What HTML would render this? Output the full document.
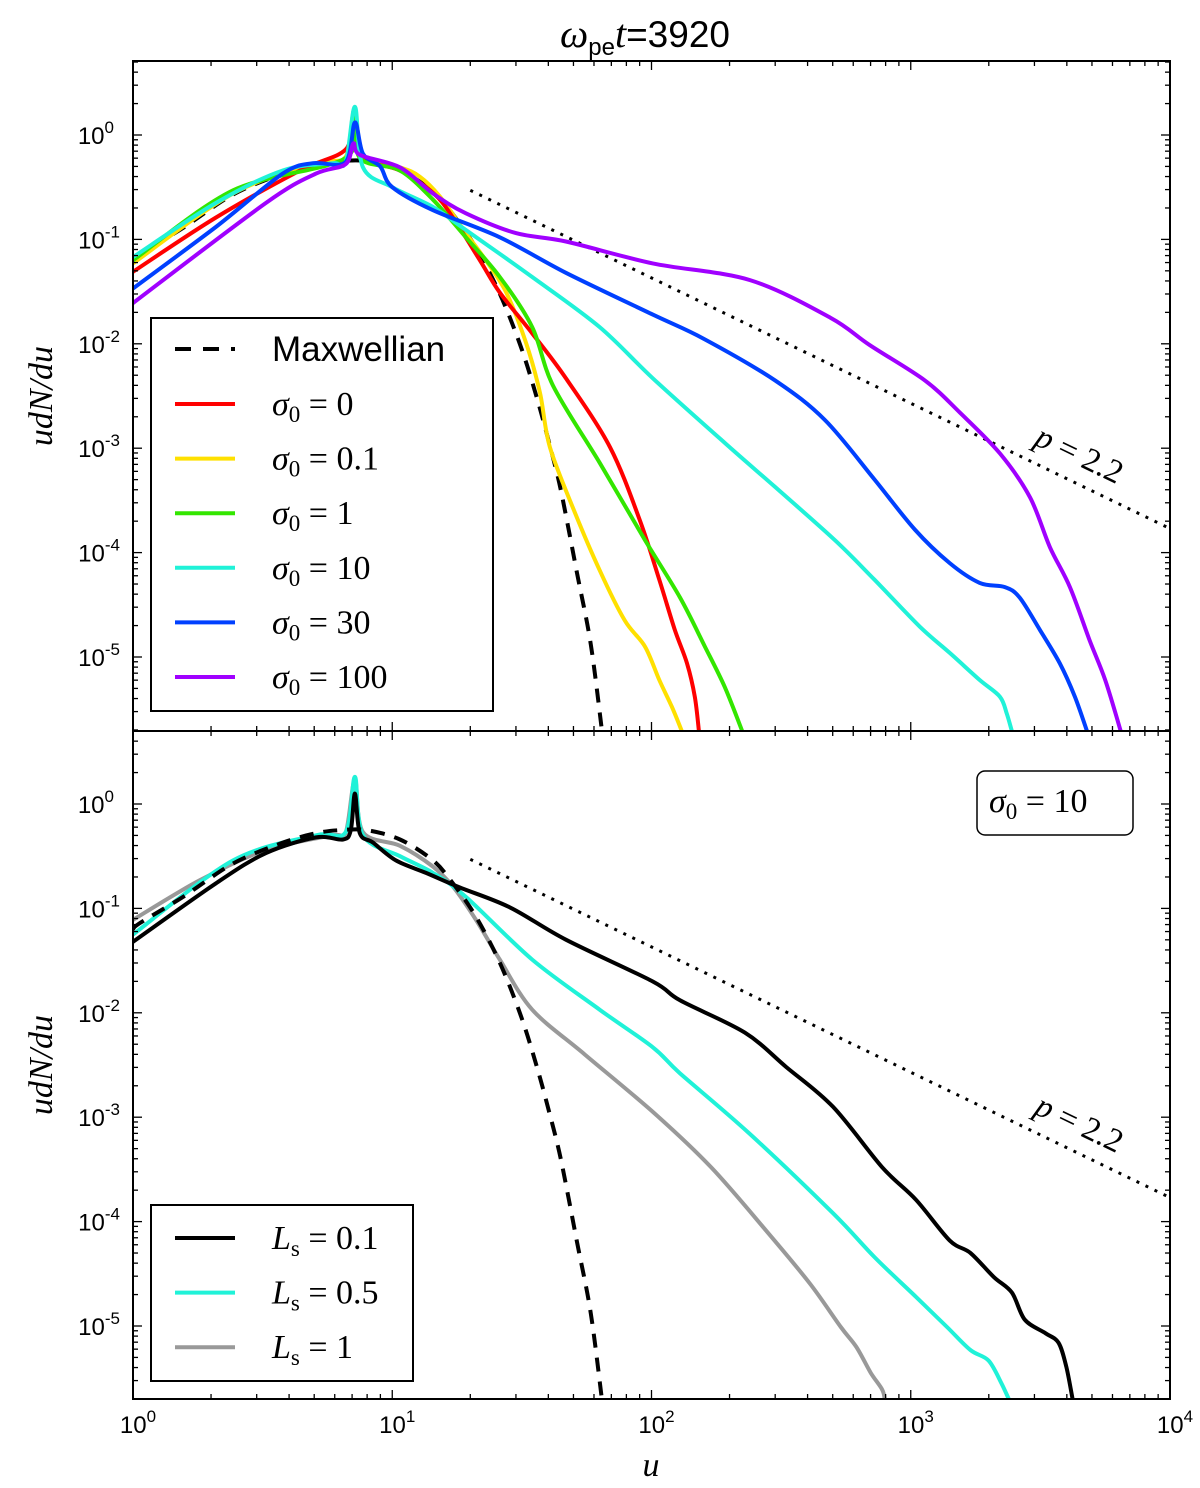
<!DOCTYPE html>
<html><head><meta charset="utf-8"><style>
html,body{margin:0;padding:0;background:#fff;}
svg{display:block;}
.tk{font-family:"Liberation Sans",sans-serif;font-size:24px;fill:#000;}
.m{font-family:"Liberation Serif",serif;font-style:italic;}
</style></head><body>
<svg id="chart" width="1200" height="1488" viewBox="0 0 1200 1488" xmlns="http://www.w3.org/2000/svg">
<defs>
<clipPath id="clipTop"><rect x="133" y="61" width="1037" height="670"/></clipPath>
<clipPath id="clipBot"><rect x="133" y="731" width="1037" height="668"/></clipPath>
</defs>
<text x="645" y="47" text-anchor="middle" style="font-family:'Liberation Sans',sans-serif;font-size:37px"><tspan class="m" style="font-size:40px">ω</tspan><tspan style="font-size:24px" dy="8">pe</tspan><tspan class="m" dy="-8" style="font-size:40px">t</tspan>=3920</text>
<g id="gTop"></g>
<g id="gBot"></g>
<text x="651" y="1476" text-anchor="middle" class="m" style="font-size:34px">u</text>
<text transform="translate(52,396) rotate(-90)" text-anchor="middle" class="m" style="font-size:34px">udN/du</text>
<text transform="translate(52,1065) rotate(-90)" text-anchor="middle" class="m" style="font-size:34px">udN/du</text>
</svg>
<script>
// ---- data (log10 u, log10 udN/du) ----
const maxLogU=[0,0.027,0.193,0.386,0.578,0.706,0.80,0.90,1.03,1.157,1.234,1.323,1.415,1.492,1.55,1.60,1.65,1.713,1.766,1.809];
const maxLogN=[-1.2,-1.14,-0.89,-0.57,-0.37,-0.28,-0.25,-0.25,-0.34,-0.54,-0.76,-1.08,-1.52,-2.0,-2.45,-2.9,-3.4,-4.2,-4.88,-5.71];

const s0LogU=[0,0.32,0.644,0.82,0.85,0.875,1.03,1.16,1.234,1.338,1.415,1.54,1.67,1.84,1.955,2.03,2.09,2.137,2.167,2.183];
const s0LogN=[-1.31,-0.79,-0.34,-0.14,0.17,-0.21,-0.34,-0.56,-0.79,-1.20,-1.51,-1.90,-2.33,-2.99,-3.69,-4.26,-4.74,-5.06,-5.38,-5.71];

const s01LogU=[0,0.386,0.706,0.82,0.85,0.875,1.03,1.107,1.184,1.284,1.361,1.44,1.516,1.57,1.608,1.705,1.80,1.897,1.975,2.03,2.079,2.117];
const s01LogN=[-1.23,-0.56,-0.27,-0.21,0.2,-0.21,-0.31,-0.40,-0.59,-0.94,-1.20,-1.51,-1.99,-2.47,-2.99,-3.62,-4.17,-4.65,-4.90,-5.22,-5.48,-5.71];

const s1LogU=[0,0.386,0.82,0.85,0.875,1.03,1.157,1.284,1.415,1.54,1.62,1.80,1.975,2.11,2.206,2.283,2.35];
const s1LogN=[-1.20,-0.53,-0.22,0.22,-0.22,-0.34,-0.62,-0.98,-1.36,-1.84,-2.40,-3.14,-3.88,-4.43,-4.90,-5.29,-5.71];

const s10LogU=[0,0.32,0.578,0.77,0.82,0.856,0.887,1.0,1.157,1.284,1.54,1.80,2.005,2.283,2.476,2.707,2.86,3.035,3.15,3.266,3.344,3.37,3.39];
const s10LogN=[-1.17,-0.65,-0.34,-0.27,-0.26,0.27,-0.31,-0.50,-0.69,-0.91,-1.36,-1.84,-2.33,-2.95,-3.37,-3.88,-4.26,-4.71,-4.96,-5.22,-5.38,-5.54,-5.71];

const s30LogU=[0,0.32,0.578,0.694,0.82,0.856,0.887,0.953,1.0,1.157,1.415,1.67,2.005,2.20,2.476,2.669,2.86,3.016,3.15,3.266,3.363,3.42,3.498,3.575,3.633,3.68];
const s30LogN=[-1.47,-0.88,-0.37,-0.27,-0.26,0.12,-0.18,-0.30,-0.50,-0.72,-0.98,-1.32,-1.72,-1.95,-2.35,-2.73,-3.30,-3.78,-4.10,-4.29,-4.33,-4.43,-4.74,-5.06,-5.38,-5.71];

const s100LogU=[0,0.513,0.706,0.82,0.85,0.875,1.03,1.157,1.284,1.477,1.67,2.005,2.38,2.69,2.84,3.054,3.19,3.344,3.46,3.537,3.614,3.69,3.75,3.81];
const s100LogN=[-1.61,-0.65,-0.37,-0.28,-0.08,-0.19,-0.31,-0.56,-0.75,-0.94,-1.02,-1.23,-1.39,-1.75,-2.01,-2.35,-2.66,-3.05,-3.47,-3.95,-4.33,-4.84,-5.22,-5.71];

const ls01LogU=[0,0.32,0.513,0.706,0.81,0.84,0.856,0.875,0.926,1.014,1.13,1.261,1.454,1.67,2.005,2.11,2.36,2.52,2.70,2.89,3.02,3.15,3.23,3.32,3.39,3.44,3.52,3.57,3.60,3.625];
const ls01LogN=[-1.32,-0.76,-0.47,-0.32,-0.34,-0.25,0.10,-0.28,-0.37,-0.54,-0.66,-0.80,-0.99,-1.30,-1.70,-1.88,-2.19,-2.52,-2.90,-3.48,-3.79,-4.18,-4.30,-4.53,-4.68,-4.94,-5.07,-5.16,-5.39,-5.71];

const ls05LogU=[0,0.386,0.706,0.82,0.856,0.887,1.03,1.157,1.284,1.54,1.80,2.005,2.11,2.375,2.70,2.86,3.02,3.14,3.23,3.30,3.35,3.38];
const ls05LogN=[-1.25,-0.54,-0.30,-0.27,0.26,-0.30,-0.50,-0.66,-0.89,-1.49,-1.97,-2.33,-2.58,-3.15,-3.92,-4.34,-4.72,-5.01,-5.23,-5.33,-5.55,-5.71];

const ls1LogU=[0,0.258,0.513,0.77,0.82,0.856,0.887,1.03,1.157,1.234,1.323,1.415,1.54,1.743,2.01,2.23,2.45,2.61,2.73,2.79,2.846,2.89,2.90];
const ls1LogN=[-1.11,-0.73,-0.44,-0.30,-0.28,0.23,-0.27,-0.40,-0.60,-0.79,-1.11,-1.49,-1.97,-2.40,-2.96,-3.48,-4.11,-4.59,-5.01,-5.20,-5.45,-5.61,-5.71];

const powerLogU=[1.301,4.0];
const powerLogN=[-0.53,-3.77];

const yTickExp=[0,-1,-2,-3,-4,-5];
const xTickExp=[0,1,2,3,4];

// ---- axes ----
const NS="http://www.w3.org/2000/svg";
const X0=133,X1=1170,DEC=(X1-X0)/4,YD=104.4;
const panels={top:{y0:61,y1:731,zero:135,g:document.getElementById('gTop'),clip:'clipTop'},
              bot:{y0:731,y1:1399,zero:804,g:document.getElementById('gBot'),clip:'clipBot'}};
function xs(lu){return X0+lu*DEC;}
function ys(p,ln){return p.zero-ln*YD;}
function mk(tag,attrs,parent){const e=document.createElementNS(NS,tag);for(const k in attrs)e.setAttribute(k,attrs[k]);parent.appendChild(e);return e;}

function smoothPath(pts){
  if(pts.length<3){return pts.map((p,i)=>(i?'L':'M')+p[0].toFixed(1)+','+p[1].toFixed(1)).join('');}
  let d='M'+pts[0][0].toFixed(1)+','+pts[0][1].toFixed(1);
  const t=0.16;
  for(let i=0;i<pts.length-1;i++){
    const p0=pts[i-1]||pts[i],p1=pts[i],p2=pts[i+1],p3=pts[i+2]||p2;
    const c1=[p1[0]+(p2[0]-p0[0])*t,p1[1]+(p2[1]-p0[1])*t];
    const c2=[p2[0]-(p3[0]-p1[0])*t,p2[1]-(p3[1]-p1[1])*t];
    d+='C'+c1[0].toFixed(1)+','+c1[1].toFixed(1)+' '+c2[0].toFixed(1)+','+c2[1].toFixed(1)+' '+p2[0].toFixed(1)+','+p2[1].toFixed(1);
  }
  return d;
}

function drawSeries(p,lu,ln,color,w,dash,name,smooth){
  const pts=lu.map((u,i)=>[xs(u),ys(p,ln[i])]);
  const d=smooth===false?pts.map((q,i)=>(i?'L':'M')+q[0].toFixed(1)+','+q[1].toFixed(1)).join(''):smoothPath(pts);
  const el=mk('path',{d:d,fill:'none',stroke:color,'stroke-width':w,'stroke-linejoin':'round','clip-path':'url(#'+p.clip+')'},p.g);
  if(dash)el.setAttribute('stroke-dasharray',dash);
  
  
}

function drawAxes(p,name,showX){
  const tg=mk('g',{},p.g);
  
  
  for(let dcd=0;dcd<4;dcd++){for(let k=1;k<10;k++){
    const x=xs(dcd+Math.log10(k));const L=k==1?9:5;
    mk('line',{x1:x,x2:x,y1:p.y1,y2:p.y1-L,stroke:'#000','stroke-width':1.3},tg);
    mk('line',{x1:x,x2:x,y1:p.y0,y2:p.y0+L,stroke:'#000','stroke-width':1.3},tg);
  }}
  for(let dcd=-6;dcd<1;dcd++){for(let k=1;k<10;k++){
    const y=ys(p,dcd+Math.log10(k));if(y<p.y0||y>p.y1)continue;const L=k==1?9:5;
    mk('line',{x1:X0,x2:X0+L,y1:y,y2:y,stroke:'#000','stroke-width':1.3},tg);
    mk('line',{x1:X1,x2:X1-L,y1:y,y2:y,stroke:'#000','stroke-width':1.3},tg);
  }}
  yTickExp.forEach(e=>{
    const t=mk('text',{x:e<0?120:114,y:ys(p,e)+9,'text-anchor':'end',class:'tk'},p.g);
    
    
    t.innerHTML='10<tspan dy="-11" style="font-size:17px">'+e+'</tspan>';
  });
  if(showX){xTickExp.forEach(e=>{
    const t=mk('text',{x:xs(e)+5,y:1433,'text-anchor':'middle',class:'tk'},p.g);
    
    
    t.innerHTML='10<tspan dy="-11" style="font-size:17px">'+e+'</tspan>';
  });}
  const fr=mk('rect',{x:X0,y:p.y0,width:X1-X0,height:p.y1-p.y0,fill:'none',stroke:'#000','stroke-width':2},p.g);
  
  
}

function legendLine(g,x,y,color,dash,w){const l=mk('line',{x1:x,x2:x+60,y1:y,y2:y,stroke:color,'stroke-width':w||4},g);if(dash)l.setAttribute('stroke-dasharray',dash);return l;}
function mathLabel(g,x,y,html,name){const t=mk('text',{x:x,y:y+11,style:"font-family:'Liberation Serif',serif;font-size:34px"},g);t.innerHTML=html;return t;}
function pLabel(p,name){
  const t=mk('text',{transform:'translate(1033,'+(ys(p,-2.96))+') rotate(25.7)',style:"font-family:'Liberation Serif',serif;font-size:33px"},p.g);
  t.innerHTML='<tspan font-style="italic">p</tspan> = 2.2';
  
  
}

const T=panels.top,B=panels.bot;
drawSeries(T,powerLogU,powerLogN,'#000',3,'3,7','power-law-guide-top',false);
drawSeries(T,maxLogU,maxLogN,'#000',4,'14,10','maxwellian-top');
drawSeries(T,s01LogU,s01LogN,'#ffe000',4,null,'sigma-0.1-line');
drawSeries(T,s0LogU,s0LogN,'#ff0000',4,null,'sigma-0-line');
drawSeries(T,s1LogU,s1LogN,'#33e600',4,null,'sigma-1-line');
drawSeries(T,s10LogU,s10LogN,'#20f2d8',4,null,'sigma-10-line');
drawSeries(T,s30LogU,s30LogN,'#0040ff',4,null,'sigma-30-line');
drawSeries(T,s100LogU,s100LogN,'#a000ff',4,null,'sigma-100-line');
pLabel(T,'power-law-label-top');
drawAxes(T,'top',false);

const lg=mk('g',{},T.g);


mk('rect',{x:151,y:318,width:342,height:393,fill:'#fff',stroke:'#000','stroke-width':2},lg);
legendLine(lg,175,349,'#000','16,12');
const mt=mk('text',{x:272,y:361,style:"font-family:'Liberation Sans',sans-serif;font-size:35px"},lg);mt.textContent='Maxwellian';


const sigLabels=['0','0.1','1','10','30','100'];
const sigColors=['#ff0000','#ffe000','#33e600','#20f2d8','#0040ff','#a000ff'];
sigLabels.forEach((s,i)=>{const y=404+i*54.6;legendLine(lg,175,y,sigColors[i]);
  mathLabel(lg,272,y,'<tspan font-style="italic">σ</tspan><tspan dy="7" style="font-size:23px">0</tspan><tspan dy="-7"> = '+s+'</tspan>','legend-sigma-'+s);});

drawSeries(B,powerLogU,powerLogN,'#000',3,'3,7','power-law-guide-bottom',false);
drawSeries(B,ls1LogU,ls1LogN,'#999999',4,null,'ls-1-line');
drawSeries(B,ls05LogU,ls05LogN,'#20f2d8',4,null,'ls-0.5-line');
drawSeries(B,ls01LogU,ls01LogN,'#000',4,null,'ls-0.1-line');
drawSeries(B,maxLogU,maxLogN,'#000',4,'14,10','maxwellian-bottom');
pLabel(B,'power-law-label-bottom');
drawAxes(B,'bottom',true);

const bl=mk('g',{},B.g);


mk('rect',{x:151,y:1205,width:262,height:176,fill:'#fff',stroke:'#000','stroke-width':2},bl);
const lsLabels=['0.1','0.5','1'];const lsColors=['#000','#20f2d8','#999999'];
lsLabels.forEach((s,i)=>{const y=1238+i*54.6;legendLine(bl,175,y,lsColors[i]);
  mathLabel(bl,272,y,'<tspan font-style="italic">L</tspan><tspan dy="7" style="font-size:23px">s</tspan><tspan dy="-7"> = '+s+'</tspan>','legend-ls-'+s);});

const sb=mk('g',{},B.g);


mk('rect',{x:977,y:771,width:156,height:64,rx:8,fill:'#fff',stroke:'#000','stroke-width':1.5},sb);
mathLabel(sb,989,801,'<tspan font-style="italic">σ</tspan><tspan dy="7" style="font-size:23px">0</tspan><tspan dy="-7"> = 10</tspan>','sigma-10-box-label');
</script>
</body></html>
